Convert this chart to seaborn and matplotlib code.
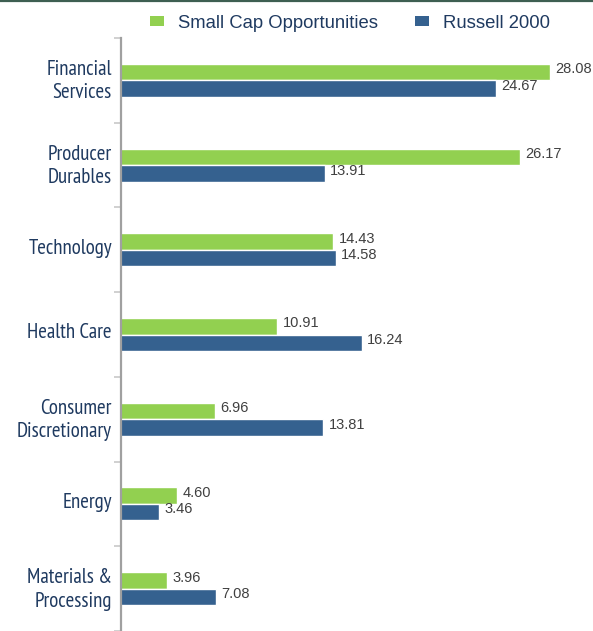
import matplotlib
matplotlib.use("Agg")
import matplotlib.pyplot as plt
from matplotlib.lines import Line2D
from matplotlib.patches import Patch
from matplotlib.transforms import ScaledTranslation
import seaborn as sns
import pandas as pd
import numpy as np

categories = ["Financial\nServices", "Producer\nDurables", "Technology", "Health Care",
              "Consumer\nDiscretionary", "Energy", "Materials &\nProcessing"]
series_names = ["Small Cap Opportunities", "Russell 2000"]
small_cap = [28.08, 26.17, 14.43, 10.91, 6.96, 4.60, 3.96]
russell = [24.67, 13.91, 14.58, 16.24, 13.81, 3.46, 7.08]
colors = ["#92D050", "#35618F"]

df = pd.DataFrame({
    "category": categories * 2,
    "series": [series_names[0]] * len(categories) + [series_names[1]] * len(categories),
    "value": small_cap + russell,
})

sns.set_theme(style="white")
plt.rcParams["font.family"] = ["Liberation Sans", "DejaVu Sans"]
narrow = ["Liberation Sans Narrow", "Arial Narrow", "PT Sans Narrow", "Archivo Narrow",
          "Liberation Sans", "DejaVu Sans"]

W, H = 593, 631
fig = plt.figure(figsize=(W / 100, H / 100), dpi=100)
ax = fig.add_axes([121 / W, 0, 1 - 121 / W, 1 - 38 / H])

sns.barplot(data=df, y="category", x="value", hue="series", order=categories,
            hue_order=series_names, palette=colors, orient="h", width=0.39,
            saturation=1, legend=False, ax=ax)

ax.set_xlim(1.07, (W - 104) / 15.88)
ax.set_ylim(6.457, -0.5)
ax.set_xlabel("")
ax.set_ylabel("")
ax.set_xticks([])

for s in ["top", "right", "bottom"]:
    ax.spines[s].set_visible(False)
ax.spines["left"].set_color("#A0A0A0")
ax.spines["left"].set_linewidth(1.6)

ax.set_yticks(range(len(categories)))
ax.set_yticklabels(categories, fontsize=15, color="#1F3A60", family=narrow,
                   linespacing=1.3)
ax.tick_params(axis="y", which="major", length=0, pad=6.5)
shift = ScaledTranslation(0, 3.5 / 100, fig.dpi_scale_trans)
for tick in ax.yaxis.get_major_ticks():
    tick.label1.set_transform(tick.label1.get_transform() + shift)
ax.set_yticks(np.arange(-0.5, len(categories), 1.0), minor=True)
ax.tick_params(axis="y", which="minor", length=5, width=1.2, color="#C8C8C8", left=True)

for cont in ax.containers:
    for rect in cont:
        w = rect.get_width()
        ax.annotate(f"{w:.2f}", (w, rect.get_y() + rect.get_height() / 2),
                    xytext=(3.8, 2), textcoords="offset points", ha="left", va="center",
                    fontsize=10.5, color="#404040", annotation_clip=False)

handles = [Patch(facecolor=c, edgecolor="none") for c in colors]
fig.legend(handles, series_names, loc="center", bbox_to_anchor=(350 / W, 1 - 23 / H),
           ncol=2, frameon=False, fontsize=13.3, handlelength=0.75, handleheight=0.45,
           handletextpad=0.75, columnspacing=2.0, borderpad=0, labelcolor="#1F3A60")

fig.add_artist(Line2D([0, 1], [1 - 1 / H, 1 - 1 / H], transform=fig.transFigure,
                      color="#3E5F52", linewidth=1.6))

fig.savefig("out.png", dpi=100)
